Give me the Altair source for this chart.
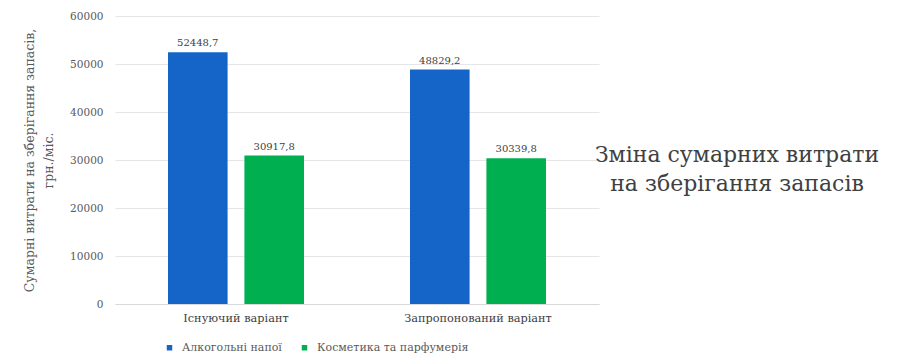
import altair as alt
import pandas as pd

categories = ["Існуючий варіант", "Існуючий варіант", "Запропонований варіант", "Запропонований варіант"]
series = ["Алкогольні напої", "Косметика та парфумерія", "Алкогольні напої", "Косметика та парфумерія"]
values = [52448.7, 30917.8, 48829.2, 30339.8]
cat_order = ["Існуючий варіант", "Запропонований варіант"]
series_order = ["Алкогольні напої", "Косметика та парфумерія"]
colors = ["#1565C8", "#00B050"]
y_title = ["Сумарні витрати на зберігання запасів,", "грн./міс."]
side_title = ["Зміна сумарних витрати", "на зберігання запасів"]

df = pd.DataFrame({"cat": categories, "series": series, "v": values})

FONT = "DejaVu Serif"
GREY = "#595959"

x = alt.X("cat:N", sort=cat_order, title=None,
          scale=alt.Scale(paddingInner=0.438, paddingOuter=0.219),
          axis=alt.Axis(labelAngle=0, ticks=False, domain=True, domainColor="#d9d9d9",
                        grid=False, labelFont=FONT, labelFontSize=11.3,
                        labelColor="#404040", labelPadding=8))
xo = alt.XOffset("series:N", sort=series_order,
                 scale=alt.Scale(paddingInner=0.22, paddingOuter=0.0))
y = alt.Y("v:Q", title=y_title,
          scale=alt.Scale(domain=[0, 60000]),
          axis=alt.Axis(values=[0, 10000, 20000, 30000, 40000, 50000, 60000], format="d",
                        ticks=False, domain=False, gridColor="#e6e6e6",
                        labelFont=FONT, labelFontSize=10.5, labelColor=GREY, labelPadding=12,
                        titleFont=FONT, titleFontSize=12.5, titleFontWeight="normal",
                        titleColor=GREY, titlePadding=14, titleLineHeight=19))
color = alt.Color("series:N", sort=series_order,
                  scale=alt.Scale(domain=series_order, range=colors),
                  legend=alt.Legend(title=None, orient="none", direction="horizontal",
                                    legendX=49, legendY=326, symbolType="square",
                                    symbolSize=30, labelFont=FONT, labelFontSize=11,
                                    labelColor=GREY, columnPadding=17, labelOffset=7))

base = alt.Chart(df)
bars = base.mark_bar().encode(x=x, xOffset=xo, y=y, color=color)
labels = base.transform_calculate(
    lbl="replace(format(datum.v, '.1f'), '.', ',')"
).mark_text(dy=-9, font=FONT, fontSize=10, color="#404040").encode(
    x=x, xOffset=xo, y=y, text="lbl:N")

title_txt = alt.Chart(alt.Data(values=[{"k": 1}])).mark_text(
    text=side_title, font=FONT, fontSize=22, color="#404040",
    lineHeight=29, align="center", baseline="middle"
).encode(x=alt.value(622), y=alt.value(139))

chart = alt.layer(bars, labels, title_txt).properties(
    width=484, height=288,
    background="white",
    autosize=alt.AutoSizeParams(type="none"),
    padding={"left": 107, "top": 8, "right": 294, "bottom": 49},
).configure_view(stroke="transparent", strokeWidth=0)

chart.save("out.html", embed_options={"renderer": "svg", "actions": False})
